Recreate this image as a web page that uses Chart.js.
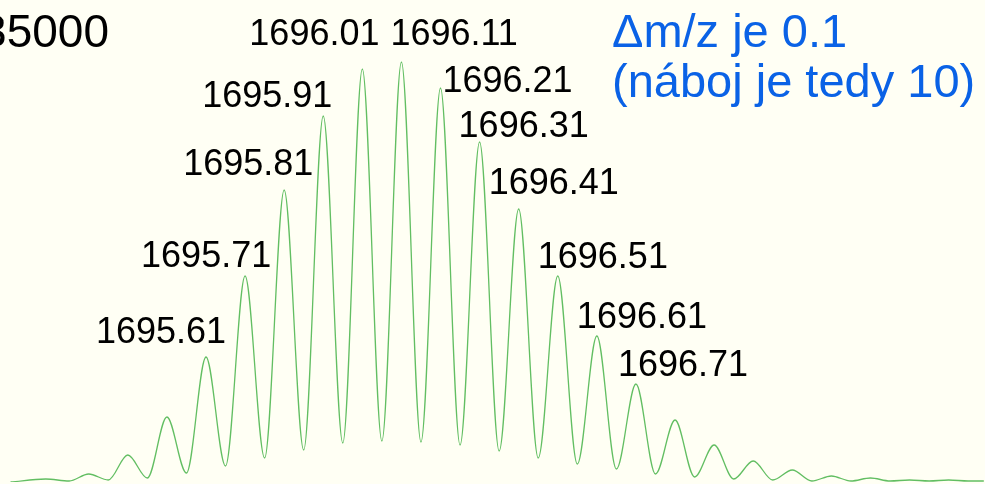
<!DOCTYPE html>
<html>
<head>
<meta charset="utf-8">
<script src="https://cdn.jsdelivr.net/npm/chart.js"></script>
<style>
    html, body { margin: 0; padding: 0; background: #fffff4; }
    #wrap { width: 985px; height: 484px; position: relative; }
</style>
</head>
<body>
<div id="wrap"><canvas id="myChart"></canvas></div>
<script>
    // profil spektra: m/z a intenzita (vrcholy a minima)
    var mzValues = [
        1695.11, 1695.20, 1695.26, 1695.31, 1695.36, 1695.41, 1695.46, 1695.51, 1695.56, 1695.61,
        1695.66, 1695.71, 1695.76, 1695.81, 1695.86, 1695.91, 1695.96, 1696.01, 1696.06, 1696.11,
        1696.16, 1696.21, 1696.26, 1696.31, 1696.36, 1696.41, 1696.46, 1696.51, 1696.56, 1696.61,
        1696.66, 1696.71, 1696.76, 1696.81, 1696.86, 1696.91, 1696.96, 1697.01, 1697.06, 1697.11,
        1697.16, 1697.21, 1697.26, 1697.31, 1697.36, 1697.41, 1697.46, 1697.51, 1697.56, 1697.60
    ];
    var intensityValues = [
        0, 300, 100, 800, 200, 2700, 400, 6500, 900, 12500,
        1600, 20600, 2400, 29200, 3200, 36600, 3900, 41300, 4100, 42000,
        4000, 39400, 3700, 34000, 3100, 27300, 2400, 20600, 1800, 14600,
        1300, 9800, 800, 6200, 500, 3700, 300, 2100, 200, 1200,
        100, 600, 100, 400, 100, 200, 100, 200, 100, 100
    ];

    // popisky vrcholů
    var peakLabels = ['1695.61', '1695.71', '1695.81', '1695.91', '1696.01', '1696.11',
        '1696.21', '1696.31', '1696.41', '1696.51', '1696.61', '1696.71'];
    // posun popisku od vrcholu (px): levý okraj, účaří
    var labelOffsets = [[-110, -14], [-104, -9], [-101, -15], [-121, -9], [-113, -24], [-11, -17],
        [2, 4], [-21, -5], [-30, -15], [-20, -8], [-20, -8], [-18, -8]];

    var axisText = '35000';
    var noteLines = ['\u0394m/z je 0.1', '(n\u00e1boj je tedy 10)'];

    var points = mzValues.map(function (m, i) { return { x: m, y: intensityValues[i] }; });

    var textPlugin = {
        id: 'peakText',
        beforeDraw: function (chart) {
            var c = chart.ctx;
            c.save();
            c.fillStyle = '#fffff4';
            c.fillRect(0, 0, chart.width, chart.height);
            c.restore();
        },
        afterDatasetsDraw: function (chart) {
            var c = chart.ctx;
            var xs = chart.scales.x, ys = chart.scales.y;
            c.save();
            c.textBaseline = 'alphabetic';
            c.textAlign = 'left';
            c.fillStyle = '#000';
            c.font = '36px "Liberation Sans", Arial, sans-serif';
            peakLabels.forEach(function (lab, i) {
                var m = parseFloat(lab);
                var idx = mzValues.indexOf(m);
                var px = xs.getPixelForValue(m);
                var py = ys.getPixelForValue(intensityValues[idx]);
                c.fillText(lab, px + labelOffsets[i][0], py + labelOffsets[i][1]);
            });

            c.font = '46px "Liberation Sans", Arial, sans-serif';
            c.textAlign = 'right';
            c.fillText(axisText, 109, 47);

            // modrá poznámka vpravo nahoře
            c.textAlign = 'left';
            c.fillStyle = '#0a62e6';
            c.font = '47px "Liberation Sans", Arial, sans-serif';
            c.fillText(noteLines[0], 612, 47);
            c.fillText(noteLines[1], 612, 97);
            c.restore();
        }
    };

    var ctx = document.getElementById('myChart').getContext('2d');
    window.myChart = new Chart(ctx, {
        type: 'line',
        data: {
            datasets: [{
                data: points,
                borderColor: '#62be62',
                borderWidth: 1.3,
                pointRadius: 0,
                fill: false,
                cubicInterpolationMode: 'monotone'
            }]
        },
        options: {
            responsive: true,
            maintainAspectRatio: false,
            animation: false,
            layout: { padding: { left: 0, right: 0, top: 0, bottom: 2 } },
            plugins: { legend: { display: false }, tooltip: { enabled: false } },
            scales: {
                x: { type: 'linear', min: 1695.083, max: 1697.603, display: false },
                y: { min: 0, max: 48200, display: false }
            }
        },
        plugins: [textPlugin]
    });
</script>
</body>
</html>
